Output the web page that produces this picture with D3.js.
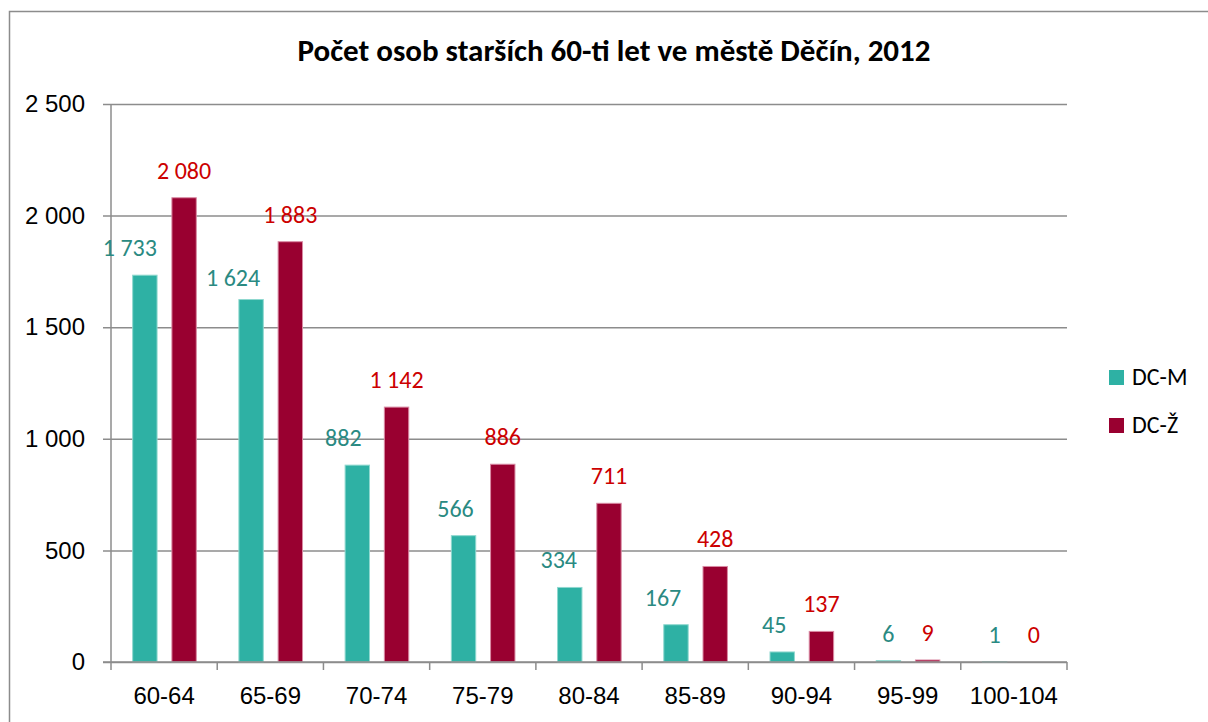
<!DOCTYPE html>
<html>
<head>
<meta charset="utf-8">
<script src="https://cdn.jsdelivr.net/npm/d3@7"></script>
<style>
    body { margin: 0; background: #fff; }
    svg { display: block; font-family: Carlito, Calibri, Lato, sans-serif; }
</style>
</head>
<body>
<svg id="chart"></svg>
<script>
// data
const ageGroups = ['60-64', '65-69', '70-74', '75-79', '80-84', '85-89', '90-94', '95-99', '100-104'];
const maleValues = [1733, 1624, 882, 566, 334, 167, 45, 6, 1];
const femaleValues = [2080, 1883, 1142, 886, 711, 428, 137, 9, 0];
const seriesNames = ['DC-M', 'DC-Ž'];
const yTickValues = [0, 500, 1000, 1500, 2000, 2500];
const chartTitle = 'Počet osob starších 60-ti let ve městě Děčín, 2012';

// the male labels were dragged by hand in the original, keep the nudges (px)
const maleLabelNudgeX = [-15, -18, -14, -8, -11, -13, -8, 0, 0];
const maleLabelNudgeY = [0, 5, 0, 0, 0, 0, 0, 0, 0];

class GroupedBar {
    constructor(_config) {
        this.config = {
            parentElement: _config.parentElement,
            containerWidth: _config.containerWidth || 1208,
            containerHeight: _config.containerHeight || 722,
            margin: { top: 104, bottom: 60, right: 141, left: 111 }
        }
        this.initVis();
    }

    initVis() {
        let vis = this;
        vis.width = vis.config.containerWidth - vis.config.margin.left - vis.config.margin.right;
        vis.height = vis.config.containerHeight - vis.config.margin.top - vis.config.margin.bottom;

        vis.svg = d3.select(vis.config.parentElement)
            .attr('width', vis.config.containerWidth)
            .attr('height', vis.config.containerHeight);

        // outer frame of the excel chart, runs off the right and bottom edge
        vis.svg.append('rect')
            .attr('x', 9.5)
            .attr('y', 11.5)
            .attr('width', 1220)
            .attr('height', 740)
            .attr('fill', 'none')
            .attr('stroke', '#8c8c8c')
            .attr('stroke-width', 1.5);

        vis.chart = vis.svg.append('g')
            .attr('transform', `translate(${vis.config.margin.left},${vis.config.margin.top})`);

        vis.x0 = d3.scaleBand()
            .domain(ageGroups)
            .range([0, vis.width]);

        vis.x1 = d3.scaleBand()
            .domain(seriesNames)
            .range([vis.x0.bandwidth() * 0.204, vis.x0.bandwidth() * 0.803])
            .paddingInner(0.378);

        vis.y = d3.scaleLinear()
            .domain([0, 2500])
            .range([vis.height, 0]);

        vis.color = d3.scaleOrdinal()
            .domain(seriesNames)
            .range(['#2eb1a4', '#990030']);
        vis.edge = d3.scaleOrdinal()
            .domain(seriesNames)
            .range(['#8fd8cf', '#d98aa3']);
        vis.labelColor = d3.scaleOrdinal()
            .domain(seriesNames)
            .range(['#2a8a82', '#cc0000']);

        vis.updateVis();
    }

    updateVis() {
        let vis = this;
        const fmt = d3.formatLocale({ decimal: ',', thousands: ' ', grouping: [3], currency: ['', ''] }).format(',');

        vis.data = ageGroups.map((g, i) => ({
            group: g,
            i: i,
            values: [
                { key: seriesNames[0], value: maleValues[i] },
                { key: seriesNames[1], value: femaleValues[i] }
            ]
        }));

        // gridlines + y axis
        const yAxis = d3.axisLeft(vis.y)
            .tickValues(yTickValues)
            .tickSize(-vis.width)
            .tickSizeOuter(0)
            .tickPadding(26)
            .tickFormat(fmt);

        const yG = vis.chart.append('g').call(yAxis);
        yG.select('.domain').remove();
        yG.selectAll('.tick line')
            .attr('x1', -8)
            .attr('stroke', '#8c8c8c')
            .attr('stroke-width', 1.5);
        yG.selectAll('.tick text')
            .attr('fill', '#000')
            .style('font-size', '24px');

        vis.chart.append('line')
            .attr('x1', 0).attr('x2', 0)
            .attr('y1', 0).attr('y2', vis.height)
            .attr('stroke', '#8c8c8c')
            .attr('stroke-width', 1.5);

        // bars
        const groups = vis.chart.selectAll('.age')
            .data(vis.data)
            .join('g')
            .attr('class', 'age')
            .attr('transform', d => `translate(${vis.x0(d.group)},0)`);

        groups.selectAll('rect')
            .data(d => d.values)
            .join('rect')
            .attr('x', d => vis.x1(d.key))
            .attr('y', d => vis.y(d.value))
            .attr('width', vis.x1.bandwidth())
            .attr('height', d => vis.height - vis.y(d.value))
            .attr('fill', d => vis.color(d.key))
            .attr('stroke', d => vis.edge(d.key))
            .attr('stroke-width', 1);

        // value labels
        groups.selectAll('.val')
            .data(d => d.values.map(v => ({ ...v, i: d.i })))
            .join('text')
            .attr('class', 'val')
            .attr('x', d => vis.x1(d.key) + vis.x1.bandwidth() / 2 + (d.key === seriesNames[0] ? maleLabelNudgeX[d.i] : 0))
            .attr('y', d => vis.y(d.value) - 19 + (d.key === seriesNames[0] ? maleLabelNudgeY[d.i] : 0))
            .attr('text-anchor', 'middle')
            .attr('fill', d => vis.labelColor(d.key))
            .style('font-size', '24px')
            .text(d => fmt(d.value));

        // x axis
        const xG = vis.chart.append('g')
            .attr('transform', `translate(0,${vis.height})`)
            .call(d3.axisBottom(vis.x0).tickSize(0).tickPadding(25));
        xG.select('.domain')
            .attr('d', `M-8,0H${vis.width}`)
            .attr('stroke', '#8c8c8c')
            .attr('stroke-width', 1.5);
        xG.selectAll('.tick text')
            .attr('fill', '#000')
            .style('font-size', '24px');

        xG.selectAll('.sep')
            .data(d3.range(ageGroups.length + 1))
            .join('line')
            .attr('class', 'sep')
            .attr('x1', i => i * vis.x0.step())
            .attr('x2', i => i * vis.x0.step())
            .attr('y1', 0)
            .attr('y2', 8)
            .attr('stroke', '#8c8c8c')
            .attr('stroke-width', 1.5);

        // title
        vis.svg.append('text')
            .attr('x', 614)
            .attr('y', 61)
            .attr('text-anchor', 'middle')
            .style('font-size', '31px')
            .style('font-weight', 'bold')
            .text(chartTitle);

        // legend
        const legend = vis.svg.append('g')
            .attr('transform', `translate(${vis.config.margin.left + vis.width + 42},370)`);

        const item = legend.selectAll('g')
            .data(seriesNames)
            .join('g')
            .attr('transform', (d, i) => `translate(0,${i * 48})`);

        item.append('rect')
            .attr('width', 15)
            .attr('height', 15)
            .attr('fill', d => vis.color(d));

        item.append('text')
            .attr('x', 23)
            .attr('y', 15)
            .style('font-size', '24px')
            .text(d => d);
    }
}

new GroupedBar({ parentElement: '#chart' });
</script>
</body>
</html>
